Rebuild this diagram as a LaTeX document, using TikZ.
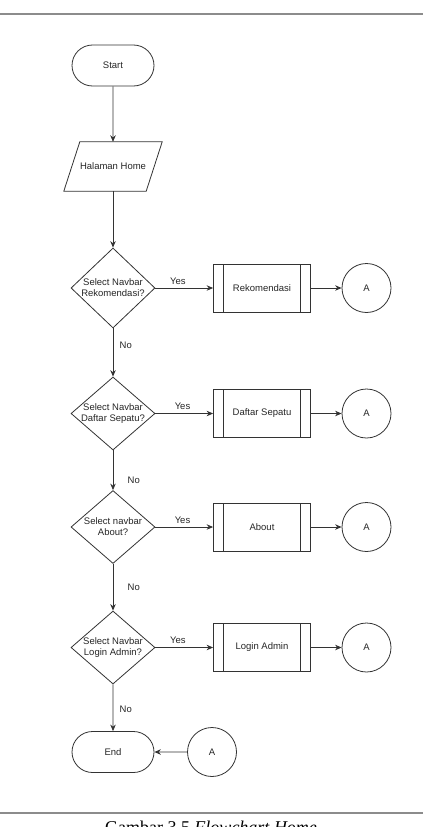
\documentclass[tikz,border=0pt]{standalone}
\usepackage{fontspec}
\setmainfont{Liberation Serif}
\newfontfamily\flowfont{Liberation Sans}
\usetikzlibrary{shapes.geometric,shapes.misc,arrows.meta}

\begin{document}
\begin{tikzpicture}[x=1pt,y=-1pt,
    every node/.style={font=\flowfont\fontsize{9.5}{11}\selectfont, text=black!85},
    line/.style={draw=black!80, line width=0.8pt},
    arr/.style={line, -{Stealth[length=6.5pt,width=5.5pt]}},
    terminal/.style={line, rounded rectangle, minimum width=82pt, minimum height=41pt, inner sep=0pt},
    inputbox/.style={rectangle, minimum width=98pt, minimum height=49pt, inner sep=0pt},
    decision/.style={line, diamond, aspect=1.05, inner sep=-6pt, minimum width=84pt,
        minimum height=73pt, align=center},
    subproc/.style={line, rectangle, minimum width=97pt, minimum height=48pt, inner sep=0pt,
        path picture={
            \draw[black!80, line width=0.8pt]
            ([xshift=10pt]path picture bounding box.north west) -- ([xshift=10pt]path picture bounding box.south west)
            ([xshift=-10pt]path picture bounding box.north east) -- ([xshift=-10pt]path picture bounding box.south east);
        }},
    connector/.style={line, circle, minimum size=49pt, inner sep=0pt},
    rule/.style={draw=black!45, line width=1.5pt},
    caption/.style={font=\fontsize{18}{20}\selectfont, text=black, anchor=base, inner sep=0pt}
  ]
  \useasboundingbox (0,0) rectangle (423,827);

  % page rules
  \draw[rule] (0,14) -- (423,14);
  \draw[rule] (0,813) -- (423,813);

  % main column
  \node[terminal] (start) at (113,65.5) {Start};
  \node[inputbox] (home) at (113,166.5) {Halaman Home};
  \draw[line] ([xshift=16pt]home.north west) -- (home.north east)
    -- ([xshift=-16pt]home.south east) -- (home.south west) -- cycle;
  \node[decision, minimum height=80pt] (sel1) at (113,288) {Select Navbar\\Rekomendasi?};
  \node[decision] (sel2) at (113,413.5) {Select Navbar\\Daftar Sepatu?};
  \node[decision] (sel3) at (113,527) {Select navbar\\About?};
  \node[decision] (sel4) at (113,647.5) {Select Navbar\\Login Admin?};
  \node[terminal] (end) at (113,752) {End};

  % pages
  \node[subproc] (rekom) at (262,288) {Rekomendasi};
  \node[subproc] (daftar) at (262,413.5) {Daftar Sepatu};
  \node[subproc] (about) at (262,527) {About};
  \node[subproc] (login) at (262,647.5) {Login Admin};

  % off-page connectors
  \node[connector] (a1) at (366.5,288) {A};
  \node[connector] (a2) at (366.5,413.5) {A};
  \node[connector] (a3) at (366.5,527) {A};
  \node[connector] (a4) at (366.5,647.5) {A};
  \node[connector] (a5) at (212,752) {A};

  % flow
  \draw[arr] (start) -- (home);
  \draw[arr] (home) -- (sel1);
  \draw[arr] (sel1) -- node[above, pos=0.39] {Yes} (rekom);
  \draw[arr] (sel2) -- node[above, pos=0.47] {Yes} (daftar);
  \draw[arr] (sel3) -- node[above, pos=0.47] {Yes} (about);
  \draw[arr] (sel4) -- node[above, pos=0.39] {Yes} (login);
  \draw[arr] (rekom) -- (a1);
  \draw[arr] (daftar) -- (a2);
  \draw[arr] (about) -- (a3);
  \draw[arr] (login) -- (a4);
  \draw[arr] (sel1) -- node[right, pos=0.35, xshift=3pt] {No} (sel2);
  \draw[arr] (sel2) -- node[right, pos=0.74, xshift=11pt] {No} (sel3);
  \draw[arr] (sel3) -- node[right, pos=0.51, xshift=11pt] {No} (sel4);
  \draw[arr] (sel4) -- node[right, pos=0.53, xshift=3pt] {No} (end);
  \draw[arr] (a5) -- (end);

  % caption, cut by the page edge as in the scan
  \node[caption] (cap) at (211,833) {Gambar 3.5 \textit{Flowchart Home}};
\end{tikzpicture}
\end{document}
